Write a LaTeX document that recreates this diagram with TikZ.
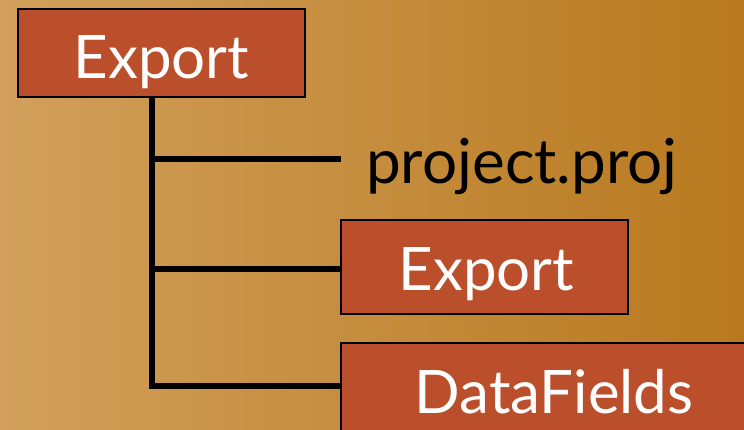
\documentclass[tikz,border=0pt]{standalone}
\usepackage{fontspec}
\setmainfont{Lato}
\definecolor{bgleft}{RGB}{209,160,92}
\definecolor{bgright}{RGB}{184,121,30}
\definecolor{boxfill}{RGB}{187,79,44}
\tikzset{
  folder/.style={draw=black, line width=1.6pt, fill=boxfill, inner sep=0pt},
  boxlabel/.style={text=white, font=\fontsize{60}{60}\selectfont, inner sep=0pt, anchor=base},
  filelabel/.style={text=black, font=\fontsize{62}{62}\selectfont, inner sep=0pt, anchor=base west},
  branch/.style={line width=6pt, black},
}
\begin{document}
\begin{tikzpicture}[x=1pt,y=-1pt]
  \useasboundingbox (0,0) rectangle (744,429);
  \shade[left color=bgleft, right color=bgright] (0,0) rectangle (744,429);
  \begin{scope}
  \clip (0,0) rectangle (744,429);
  \node[folder, minimum width=287pt, minimum height=88pt] (root) at (161.5,53) {};
  \node[folder, minimum width=287pt, minimum height=94pt] (sub) at (484.5,267) {};
  \node[folder, minimum width=426pt, minimum height=100pt] (data) at (554,393) {};
  \node[boxlabel] (rootlabel) at (161.5,78) {Export};
  \node[boxlabel] (sublabel) at (486.5,290) {Export};
  \node[boxlabel] (datalabel) at (554,413) {DataFields};
  \node[filelabel] (proj) at (366,183) {project.proj};
  \coordinate (top) at (152,97);
  \coordinate (bottom) at (152,386);
  \coordinate (b1) at (152,159);
  \coordinate (e1) at (341,159);
  \coordinate (b2) at (152,269);
  \draw[branch] (top) -- ([yshift=3pt]bottom);
  \draw[branch] (b1) -- (e1);
  \draw[branch] (b2) -- (sub.west |- b2);
  \draw[branch] ([xshift=-3pt]bottom) -- (data.west |- bottom);
  \end{scope}
\end{tikzpicture}
\end{document}
